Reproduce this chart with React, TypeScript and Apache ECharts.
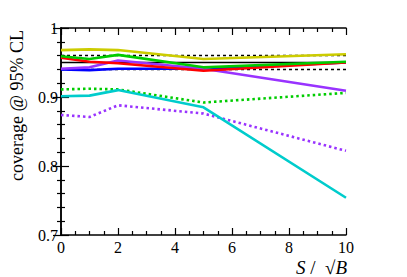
import React, { useEffect, useRef } from "react";
import * as echarts from "echarts";

const xValues = [0, 1, 2, 5, 10];
const yellowSolid = [0.968, 0.969, 0.968, 0.955, 0.962];
const greenSolid = [0.959, 0.955, 0.961, 0.943, 0.951];
const redSolid = [0.957, 0.951, 0.949, 0.938, 0.95];
const purpleSolid = [0.941, 0.943, 0.953, 0.941, 0.909];
const blueSolid = [0.94, 0.939, 0.941, 0.941, 0.95];
const cyanSolid = [0.901, 0.902, 0.91, 0.885, 0.754];
const greenDotted = [0.911, 0.912, 0.911, 0.892, 0.906];
const purpleDotted = [0.874, 0.871, 0.888, 0.876, 0.822];
const refLevels = [0.94, 0.95, 0.96];
const xRange = [0, 10];

const FONT = "Liberation Serif";

function pairs(ys: number[]) {
  return ys.map((y, i) => [xValues[i], y]);
}

export default function App() {
  const ref = useRef<HTMLDivElement>(null);
  useEffect(() => {
    const chart = echarts.init(ref.current!, undefined, { renderer: "svg" });
    const axisCommon = {
      axisLine: { lineStyle: { color: "#000", width: 1.5 } },
      splitLine: { show: false },
    };
    const refSeries = refLevels.map((lv) => ({
      type: "line",
      data: [[xRange[0], lv], [xRange[1], lv]],
      symbol: "none",
      silent: true,
      z: 1,
      lineStyle: {
        color: "#000",
        width: 1.5,
        type: lv === 0.95 ? "solid" : [3, 3],
      },
    }));
    const mk = (ys: number[], color: string, dotted: boolean, z: number) => ({
      type: "line",
      data: pairs(ys),
      symbol: "none",
      z,
      lineStyle: { color, width: 2.6, type: dotted ? [2.5, 3] : "solid" },
    });
    chart.setOption({
      animation: false,
      backgroundColor: "#fff",
      grid: { left: 61, top: 28, width: 285, height: 207 },
      xAxis: [
        {
          type: "value",
          min: 0,
          max: 10,
          interval: 2,
          position: "bottom",
          ...axisCommon,
          axisTick: { inside: true, length: 7, lineStyle: { color: "#000", width: 1.2 } },
          minorTick: { show: true, splitNumber: 4, length: 4, lineStyle: { color: "#000", width: 1.2 } },
          axisLabel: { margin: 4, color: "#000", fontFamily: FONT, fontSize: 16 },
        },
        {
          type: "value",
          min: 0,
          max: 10,
          interval: 2,
          position: "top",
          ...axisCommon,
          axisTick: { inside: true, length: 7, lineStyle: { color: "#000", width: 1.2 } },
          minorTick: { show: true, splitNumber: 4, length: 4, lineStyle: { color: "#000", width: 1.2 } },
          axisLabel: { show: false },
        },
      ],
      yAxis: [
        {
          type: "value",
          min: 0.7,
          max: 1,
          interval: 0.1,
          position: "left",
          ...axisCommon,
          axisTick: { inside: true, length: 8, lineStyle: { color: "#000", width: 1.2 } },
          minorTick: { show: true, splitNumber: 5, length: 4, lineStyle: { color: "#000", width: 1.2 } },
          axisLabel: { margin: 3, color: "#000", fontFamily: FONT, fontSize: 16 },
        },
        {
          type: "value",
          min: 0.7,
          max: 1,
          interval: 0.1,
          position: "right",
          ...axisCommon,
          axisTick: { inside: true, length: 8, lineStyle: { color: "#000", width: 1.2 } },
          minorTick: { show: true, splitNumber: 5, length: 4, lineStyle: { color: "#000", width: 1.2 } },
          axisLabel: { show: false },
        },
      ],
      series: [
        ...refSeries,
        mk(purpleDotted, "#9933ff", true, 2),
        mk(greenDotted, "#00cc00", true, 2),
        mk(cyanSolid, "#00cccc", false, 3),
        mk(blueSolid, "#0000ff", false, 3),
        mk(purpleSolid, "#9933ff", false, 4),
        mk(redSolid, "#ff0000", false, 5),
        mk(greenSolid, "#00cc00", false, 6),
        mk(yellowSolid, "#cccc00", false, 7),
      ],
      graphic: [
        {
          type: "text",
          x: 17,
          y: 30,
          rotation: Math.PI / 2,
          style: {
            text: "coverage @ 95% CL",
            font: `18px "${FONT}"`,
            fill: "#000",
            align: "right",
            verticalAlign: "middle",
          },
        },
        {
          type: "text",
          x: 347,
          y: 267,
          style: {
            text: "{i|S} /  \u221A{i|B}",
            font: `19px "${FONT}"`,
            fill: "#000",
            align: "right",
            verticalAlign: "middle",
            rich: {
              i: { fontStyle: "italic", fontFamily: FONT, fontSize: 19, fill: "#000" },
            },
          },
        },
      ],
    });
    return () => chart.dispose();
  }, []);
  return (
    <div
      ref={ref}
      style={{ position: "fixed", left: 0, top: 0, width: 407, height: 277, background: "#fff" }}
    />
  );
}
